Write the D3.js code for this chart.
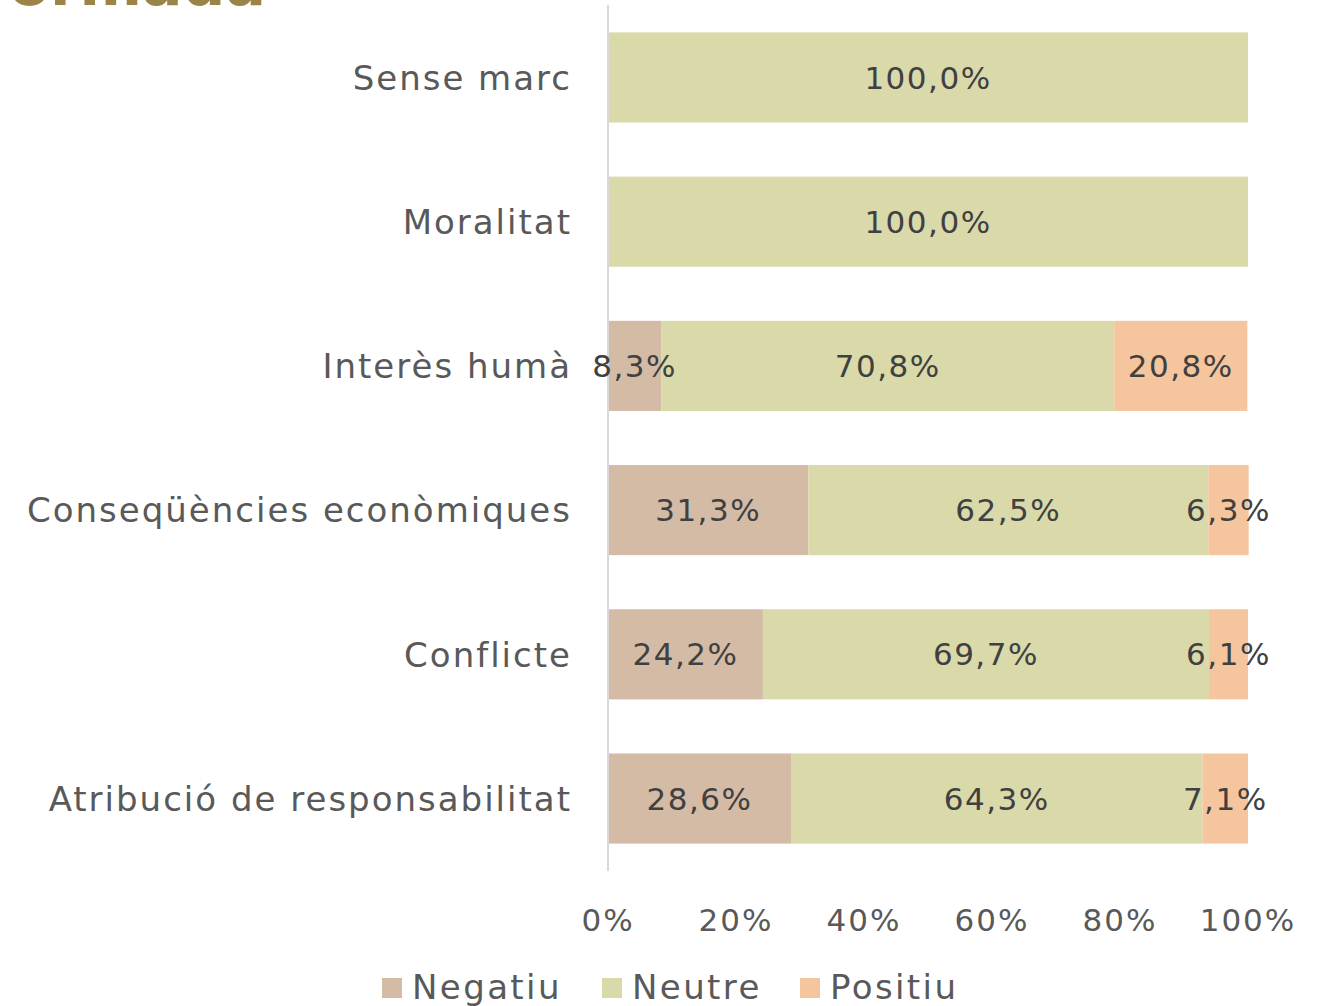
<!DOCTYPE html>
<html>
<head>
<meta charset="utf-8">
<script src="https://cdn.jsdelivr.net/npm/d3@7"></script>
<style>
  body { margin: 0; background: #fff; }
  svg text { font-family: "DejaVu Sans", sans-serif; }
</style>
</head>
<body>
<svg id="chart" width="1322" height="1006"></svg>
<script>
var categories = ['Sense marc', 'Moralitat', 'Interès humà', 'Conseqüències econòmiques', 'Conflicte', 'Atribució de responsabilitat'];
var negatiu = [0, 0, 8.3, 31.3, 24.2, 28.6];
var neutre = [100, 100, 70.8, 62.5, 69.7, 64.3];
var positiu = [0, 0, 20.8, 6.3, 6.1, 7.1];
var seriesNames = ['Negatiu', 'Neutre', 'Positiu'];
var colors = ['#d4bba6', '#d9d9a9', '#f5c59e'];
var ticks = [0, 20, 40, 60, 80, 100];

var svg = d3.select('#chart');

// title, mostly cut off at the top
svg.append('text')
	.attr('x', 266).attr('y', 5)
	.attr('text-anchor', 'end')
	.attr('fill', '#9a8448')
	.attr('font-size', 60)
	.attr('font-weight', 'bold')
	.text('Informada');

var x = d3.scaleLinear().domain([0, 100]).range([608, 1248]);
var y = d3.scaleBand().domain(categories).range([5, 871]).paddingInner(0.375).paddingOuter(0.19);

var rows = categories.map(function(c, i) {
	return { cat: c, Negatiu: negatiu[i], Neutre: neutre[i], Positiu: positiu[i] };
});
var stack = d3.stack().keys(seriesNames)(rows);

var layers = svg.selectAll('g.layer').data(stack).enter().append('g')
	.attr('class', 'layer')
	.attr('fill', function(d, i) { return colors[i]; });

layers.selectAll('rect').data(function(d) { return d; }).enter().append('rect')
	.attr('x', function(d) { return x(d[0]); })
	.attr('y', function(d) { return y(d.data.cat); })
	.attr('width', function(d) { return x(d[1]) - x(d[0]); })
	.attr('height', y.bandwidth());

// axis line
svg.append('line')
	.attr('x1', 608).attr('x2', 608)
	.attr('y1', 5).attr('y2', 871)
	.attr('stroke', '#d9d9d9').attr('stroke-width', 2);

// data labels (on top of all bars)
var fmt = function(v) { return v.toFixed(1).replace('.', ',') + '%'; };
var pts = [];
stack.forEach(function(s) { s.forEach(function(p) { if (p[1] - p[0] > 0) pts.push(p); }); });
svg.append('g').selectAll('text').data(pts).enter().append('text')
	.attr('x', function(d) { return (x(d[0]) + x(d[1])) / 2; })
	.attr('y', function(d) { return y(d.data.cat) + y.bandwidth() / 2; })
	.attr('dy', '0.36em')
	.attr('text-anchor', 'middle')
	.attr('fill', '#404040')
	.attr('font-size', 31)
	.attr('letter-spacing', 1.5)
	.text(function(d) { return fmt(d[1] - d[0]); });

// category labels
svg.selectAll('text.cat').data(categories).enter().append('text')
	.attr('class', 'cat')
	.attr('x', 572)
	.attr('y', function(d) { return y(d) + y.bandwidth() / 2; })
	.attr('dy', '0.36em')
	.attr('text-anchor', 'end')
	.attr('fill', '#595959')
	.attr('font-size', 34)
	.attr('letter-spacing', 2)
	.text(function(d) { return d; });

// x ticks
svg.selectAll('text.tick').data(ticks).enter().append('text')
	.attr('class', 'tick')
	.attr('x', function(d) { return x(d); })
	.attr('y', 931)
	.attr('text-anchor', 'middle')
	.attr('fill', '#595959')
	.attr('font-size', 31)
	.attr('letter-spacing', 2)
	.text(function(d) { return d + '%'; });

// legend
var legendX = [382, 602, 800];
var leg = svg.selectAll('g.leg').data(seriesNames).enter().append('g')
	.attr('class', 'leg')
	.attr('transform', function(d, i) { return 'translate(' + legendX[i] + ',978)'; });
leg.append('rect').attr('width', 20).attr('height', 20)
	.attr('fill', function(d, i) { return colors[i]; });
leg.append('text').attr('x', 30).attr('y', 21)
	.attr('fill', '#595959')
	.attr('font-size', 34)
	.attr('letter-spacing', 2.4)
	.text(function(d) { return d; });
</script>
</body>
</html>
